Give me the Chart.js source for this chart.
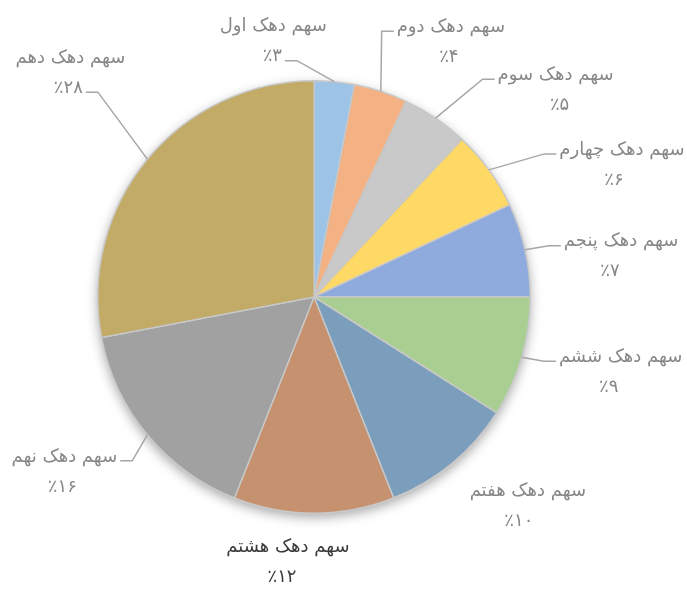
<!DOCTYPE html>
<html>
<head>
<meta charset="utf-8">
<script src="https://cdn.jsdelivr.net/npm/chart.js@4.4.1/dist/chart.umd.min.js"></script>
<style>
  html, body { margin: 0; padding: 0; background: #fff; }
  #wrap { width: 687px; height: 589px; }
</style>
</head>
<body>
<div id="wrap"><canvas id="chartDeciles" width="687" height="589"></canvas></div>
<script>
// سهم دهک‌ها
const categories = ['سهم دهک اول', 'سهم دهک دوم', 'سهم دهک سوم', 'سهم دهک چهارم', 'سهم دهک پنجم',
                    'سهم دهک ششم', 'سهم دهک هفتم', 'سهم دهک هشتم', 'سهم دهک نهم', 'سهم دهک دهم'];
const values = [3, 4, 5, 6, 7, 9, 10, 12, 16, 28];

// رنگ‌های آفیس با شفافیت
const baseColors = ['91,155,213', '237,125,49', '165,165,165', '255,192,0', '68,114,196',
                    '112,173,71', '37,94,145', '158,72,14', '99,99,99', '153,115,0'];
const fillColors = baseColors.map(c => 'rgba(' + c + ',0.6)');

// ارقام فارسی
const faDigits = n => String(n).replace(/\d/g, d => '۰۱۲۳۴۵۶۷۸۹'[d]);
const pctLabels = values.map(v => '٪' + faDigits(v));

// جای برچسب نسبت به لبه برش (فقط چیدمان)
const labelOffsets = [[-61, -55], [70, -64], [120, -43], [133, -20], [96, -8],
                      [99, 0], [76, 28], [-26, 34], [-83, 22], [-77, -101]];
const pctShift = [-1, -2, 4, -8, -11, -12, -9, -6, -2, -2];
const leaderRow = ['pct', 'name', 'name', 'name', 'name', 'name', null, null, 'name', 'pct'];
const labelColors = labelOffsets.map((o, i) => i === 7 ? '#3a3a3a' : '#878787');

const FONT = '18px "DejaVu Sans", "Noto Sans", sans-serif';

const pieShadow = {
    id: 'pieShadow',
    beforeDatasetsDraw(chart) {
        const arc = chart.getDatasetMeta(0).data[0];
        if (!arc) return;
        const { x, y, outerRadius } = arc.getProps(['x', 'y', 'outerRadius'], true);
        const ctx = chart.ctx;
        ctx.save();
        ctx.shadowColor = 'rgba(0,0,0,0.35)';
        ctx.shadowBlur = 12;
        ctx.shadowOffsetY = 4;
        ctx.fillStyle = '#fff';
        ctx.beginPath();
        ctx.arc(x, y, outerRadius, 0, Math.PI * 2);
        ctx.fill();
        ctx.restore();
    }
};

const outLabels = {
    id: 'outLabels',
    afterDatasetsDraw(chart) {
        const ctx = chart.ctx;
        const meta = chart.getDatasetMeta(0);
        meta.data.forEach((arc, i) => {
            const p = arc.getProps(['x', 'y', 'startAngle', 'endAngle', 'outerRadius'], true);
            const mid = (p.startAngle + p.endAngle) / 2;
            const ex = p.x + Math.cos(mid) * p.outerRadius;
            const ey = p.y + Math.sin(mid) * p.outerRadius;
            const nx = ex + labelOffsets[i][0];
            const ny = ey + labelOffsets[i][1];
            const px = nx + pctShift[i];
            const py = ny + 30;

            ctx.save();
            ctx.font = FONT;
            ctx.fillStyle = labelColors[i];
            ctx.textAlign = 'center';
            ctx.textBaseline = 'middle';
            ctx.direction = 'rtl';
            ctx.fillText(categories[i], nx, ny);
            ctx.direction = 'ltr';
            ctx.fillText(pctLabels[i], px, py);

            const row = leaderRow[i];
            if (row) {
                const txt = row === 'name' ? categories[i] : pctLabels[i];
                const cx = row === 'name' ? nx : px;
                const cy = (row === 'name' ? ny : py) + 4;
                const w = ctx.measureText(txt).width;
                const side = cx < ex ? 1 : -1;
                const ax = cx + side * (w / 2 + 3);
                const bx = ax + side * 12;
                ctx.strokeStyle = '#a6a6a6';
                ctx.lineWidth = 1.5;
                ctx.beginPath();
                ctx.moveTo(ax, cy);
                ctx.lineTo(bx, cy);
                ctx.lineTo(ex, ey);
                ctx.stroke();
            }
            ctx.restore();
        });
    }
};

new Chart(document.getElementById('chartDeciles'), {
    type: 'pie',
    data: {
        labels: categories,
        datasets: [{
            data: values,
            backgroundColor: fillColors,
            borderColor: '#c9c9c9',
            borderWidth: 1.5
        }]
    },
    options: {
        responsive: false,
        animation: false,
        layout: { padding: { top: 80, bottom: 75, left: 97, right: 156 } },
        plugins: {
            legend: { display: false },
            tooltip: { enabled: false }
        }
    },
    plugins: [pieShadow, outLabels]
});
</script>
</body>
</html>
